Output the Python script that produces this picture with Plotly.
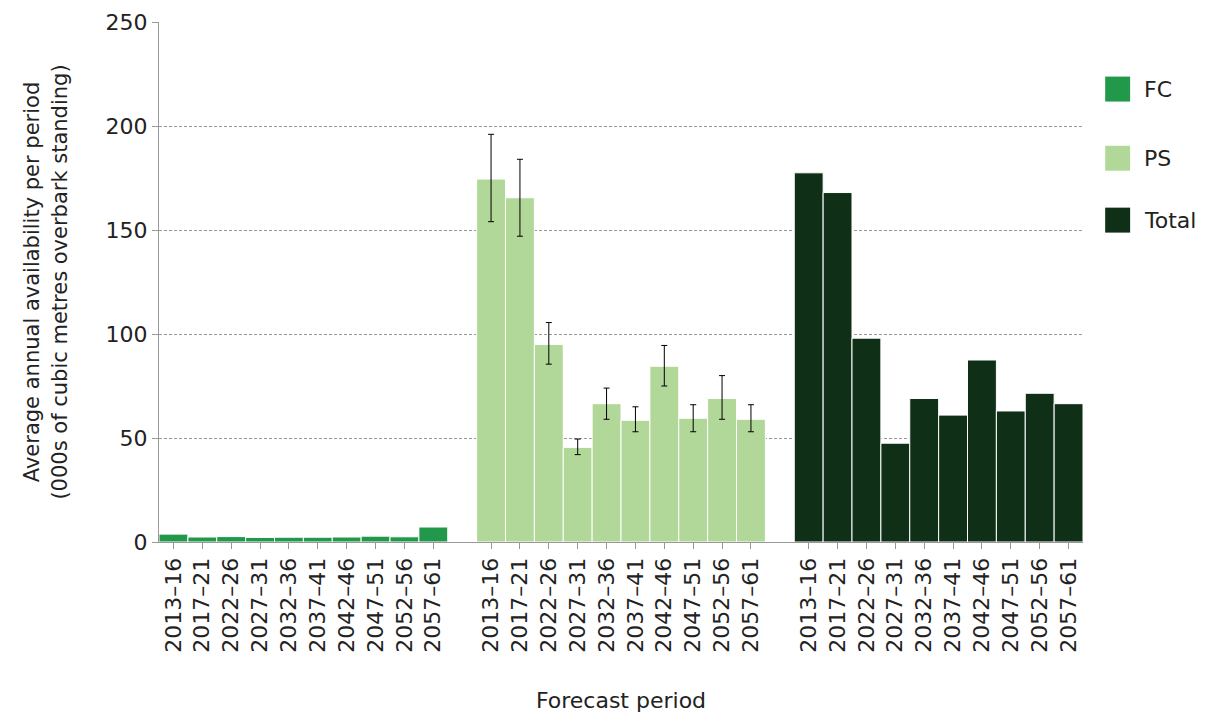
import plotly.graph_objects as go

periods = ["2013–16","2017–21","2022–26","2027–31","2032–36","2037–41","2042–46","2047–51","2052–56","2057–61"]
fc = [3.8, 2.4, 2.6, 2.2, 2.3, 2.3, 2.4, 2.8, 2.5, 7.2]
ps = [174.5, 165.5, 95, 45.5, 66.5, 58.5, 84.5, 59.5, 69, 59]
ps_hi = [196, 184, 105.5, 49.5, 74, 65, 94.5, 66, 80, 66]
ps_lo = [154, 147, 85.5, 42, 59, 53, 75, 53, 59, 53]
total = [177.5, 168, 98, 47.5, 69, 61, 87.5, 63, 71.5, 66.5]
names = ["FC", "PS", "Total"]
colors = ["#22994a", "#b2d899", "#0f2f17"]

x1 = list(range(0, 10)); x2 = list(range(11, 21)); x3 = list(range(22, 32))
font = "DejaVu Sans"
fig = go.Figure()
fig.add_bar(x=x1, y=fc, name=names[0], marker=dict(color=colors[0], line=dict(color="white", width=1)), width=1)
fig.add_bar(x=x2, y=ps, name=names[1], marker=dict(color=colors[1], line=dict(color="white", width=1)), width=1,
            error_y=dict(type="data", symmetric=False,
                         array=[h - v for h, v in zip(ps_hi, ps)],
                         arrayminus=[v - l for l, v in zip(ps_lo, ps)],
                         color="black", thickness=1, width=3))
fig.add_bar(x=x3, y=total, name=names[2], marker=dict(color=colors[2], line=dict(color="white", width=1)), width=1)

legend_y = [0.871, 0.738, 0.619]
for n, c, yc in zip(names, colors, legend_y):
    fig.add_shape(type="rect", xref="paper", yref="paper", x0=1.024, x1=1.051,
                  y0=yc - 0.024, y1=yc + 0.024, fillcolor=c, line=dict(width=0))
    fig.add_annotation(xref="paper", yref="paper", x=1.064, y=yc, text=n, showarrow=False,
                       xanchor="left", yanchor="middle", font=dict(size=22))

fig.update_layout(
    width=1221, height=718, plot_bgcolor="white", paper_bgcolor="white",
    margin=dict(l=151, r=146, t=14, b=184), barmode="overlay", showlegend=False,
    font=dict(family=font, size=21, color="#222"),
    xaxis=dict(range=[-0.5, 31.5], tickmode="array", tickvals=x1 + x2 + x3, automargin=False,
               ticktext=periods * 3, tickangle=-90, showline=True, linecolor="#999",
               ticks="outside", ticklen=6, tickcolor="#999", showgrid=False,
               tickfont=dict(size=22),
               title=dict(text="Forecast period", font=dict(size=22), standoff=40)),
    yaxis=dict(range=[0, 250], dtick=50, showline=True, linecolor="#999", ticks="outside", automargin=False,
               ticklen=6, tickcolor="#999", gridcolor="#999", griddash="3px,2px", zeroline=False,
               tickfont=dict(size=22),
               title=dict(text="Average annual availability per period<br>(000s of cubic metres overbark standing)",
                          font=dict(size=21), standoff=32)),
)
fig.write_html("out.html")
